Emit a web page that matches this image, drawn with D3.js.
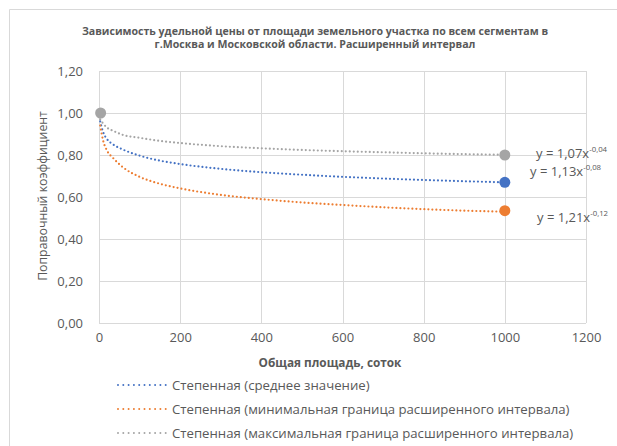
<!DOCTYPE html>
<html><head><meta charset="utf-8">
<script src="https://cdn.jsdelivr.net/npm/d3@7"></script>
<style>
html,body{margin:0;padding:0;background:#fff;}
text{font-family:"Open Sans",Lato,sans-serif;fill:#595959;}
</style></head>
<body><svg id="chart" width="617" height="446"></svg>
<script>
// ---- data ----
const titleLines = ["Зависимость удельной цены от площади земельного участка по всем сегментам в",
                    "г.Москва и Московской области. Расширенный интервал"];
const xTicks = [0, 200, 400, 600, 800, 1000, 1200];
const yTicks = [0, 0.2, 0.4, 0.6, 0.8, 1.0, 1.2];
const curveX      = [3, 10, 20, 35, 60, 100, 150, 200, 300, 400, 500, 600, 700, 800, 900, 1000];
const meanVals    = [0.96, 0.91, 0.875, 0.85, 0.825, 0.797, 0.773, 0.757, 0.734, 0.718, 0.706, 0.696, 0.688, 0.681, 0.675, 0.670];
const minVals     = [0.94, 0.87, 0.82, 0.785, 0.740, 0.696, 0.663, 0.641, 0.610, 0.590, 0.574, 0.562, 0.551, 0.542, 0.535, 0.530];
const maxVals     = [0.97, 0.95, 0.93, 0.915, 0.895, 0.882, 0.867, 0.857, 0.842, 0.832, 0.824, 0.818, 0.813, 0.808, 0.804, 0.801];
const pointX      = [4, 1000, 1000, 1000];
const pointY      = [1.00, 0.80, 0.67, 0.535];
const pointSeries = ["max", "max", "mean", "min"];
const seriesKeys  = ["mean", "min", "max"];
const seriesNames = ["Степенная (среднее значение)",
                     "Степенная (минимальная граница расширенного интервала)",
                     "Степенная (максимальная граница расширенного интервала)"];
const eqBase = {max: "y = 1,07x", mean: "y = 1,13x", min: "y = 1,21x"};
const eqExp  = {max: "-0,04", mean: "-0,08", min: "-0,12"};
const colors = {mean: "#4472c4", min: "#ed7d31", max: "#a5a5a5"};

// ---- layout ----
const svg = d3.select("#chart");
const L = 99, R = 586, T = 71, B = 323;
const x = d3.scaleLinear().domain([0, 1200]).range([L, R]);
const y = d3.scaleLinear().domain([0, 1.2]).range([B, T]);

// outer frame
svg.append("path").attr("d", "M9.5,446 V9.5 H617").attr("fill", "none").attr("stroke", "#d9d9d9");

// title
svg.append("g").selectAll("text").data(titleLines).join("text")
  .attr("x", 315).attr("y", (d, i) => 34.5 + i * 13)
  .attr("text-anchor", "middle").attr("font-size", 10.6).attr("font-weight", "bold").text(d => d);

// grid
svg.append("g").selectAll("line").data(yTicks).join("line")
  .attr("x1", L).attr("x2", R).attr("y1", d => Math.round(y(d)) + 0.5).attr("y2", d => Math.round(y(d)) + 0.5)
  .attr("stroke", "#d9d9d9");
svg.append("g").selectAll("line").data(xTicks).join("line")
  .attr("y1", T).attr("y2", B).attr("x1", d => Math.round(x(d)) + 0.5).attr("x2", d => Math.round(x(d)) + 0.5)
  .attr("stroke", "#d9d9d9");

// axes (labels only)
const yAxis = d3.axisLeft(y).tickValues(yTicks).tickSize(0).tickPadding(16)
  .tickFormat(d => d3.format(".2f")(d).replace(".", ","));
svg.append("g").attr("transform", `translate(${L},0)`).call(yAxis)
  .call(g => g.select(".domain").remove())
  .call(g => g.selectAll("text").attr("font-size", 13).attr("font-family", null).attr("fill", "#595959"));
const xAxis = d3.axisBottom(x).tickValues(xTicks).tickSize(0).tickPadding(10).tickFormat(d3.format("d"));
svg.append("g").attr("transform", `translate(0,${B})`).call(xAxis)
  .call(g => g.select(".domain").remove())
  .call(g => g.selectAll("text").attr("font-size", 13).attr("font-family", null).attr("fill", "#595959"));

// axis titles
svg.append("text").attr("x", 330).attr("y", 367).attr("text-anchor", "middle")
  .attr("font-size", 11.8).attr("font-weight", "bold").text("Общая площадь, соток");
svg.append("text").attr("transform", "translate(47,196) rotate(-90)").attr("text-anchor", "middle")
  .attr("font-size", 12.3).text("Поправочный коэффициент");

// curves
const valsBy = {mean: meanVals, min: minVals, max: maxVals};
const line = d3.line().x(d => x(d[0])).y(d => y(d[1])).curve(d3.curveMonotoneX);
seriesKeys.forEach(k => {
  svg.append("path").datum(curveX.map((xv, i) => [xv, valsBy[k][i]]))
    .attr("d", line).attr("fill", "none").attr("stroke", colors[k])
    .attr("stroke-width", 2.2).attr("stroke-linecap", "round").attr("stroke-dasharray", "0,4");
});

// points
svg.append("g").selectAll("circle").data(pointX.map((xv, i) => ({x: xv, y: pointY[i], s: pointSeries[i]})))
  .join("circle").attr("cx", d => x(d.x)).attr("cy", d => y(d.y)).attr("r", 5.5)
  .attr("fill", d => colors[d.s]);

// equations
const eqPos = {max: [536, 158], mean: [530, 176], min: [537, 222]};
["max", "mean", "min"].forEach(k => {
  const t = svg.append("text").attr("x", eqPos[k][0]).attr("y", eqPos[k][1]).attr("font-size", 13);
  t.append("tspan").text(eqBase[k]);
  t.append("tspan").attr("dy", -6).attr("font-size", 7.8).text(eqExp[k]);
});

// legend
const lg = svg.append("g").selectAll("g").data(seriesKeys).join("g")
  .attr("transform", (d, i) => `translate(0,${385 + i * 24})`);
lg.append("line").attr("x1", 118).attr("x2", 166).attr("y1", 0).attr("y2", 0)
  .attr("stroke", d => colors[d]).attr("stroke-width", 2).attr("stroke-linecap", "round").attr("stroke-dasharray", "0,5.3");
lg.append("text").attr("x", 172).attr("y", 4.5).attr("font-size", 13.2).text((d, i) => seriesNames[i]);
</script></body></html>
